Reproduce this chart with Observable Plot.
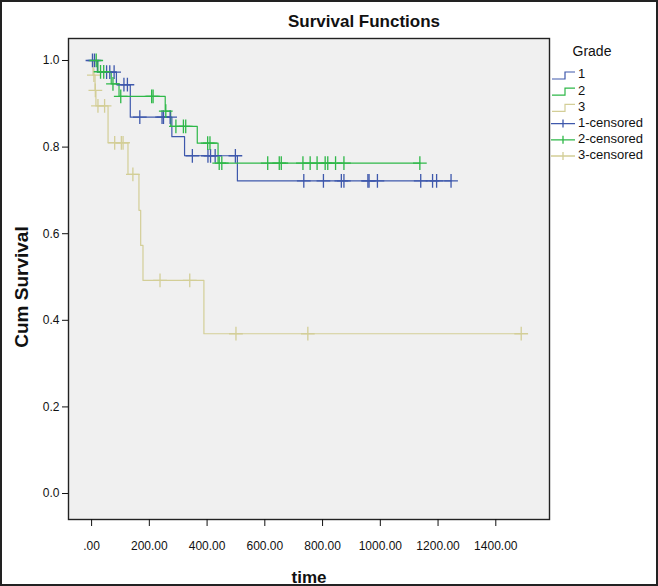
<!DOCTYPE html>
<html><head><meta charset="utf-8">
<script src="https://cdn.jsdelivr.net/npm/d3@7"></script>
<script src="https://cdn.jsdelivr.net/npm/@observablehq/plot@0.6"></script>
<style>
body{margin:0;background:#fff;}
#wrap{width:658px;height:586px;}
</style>
</head><body><div id="wrap"></div><script>
// ---- data ----
const seriesNames = ["1", "2", "3"];
const seriesColors = ["#3e58ac", "#2eb848", "#d3ce97"];
const legendLabels = ["1", "2", "3", "1-censored", "2-censored", "3-censored"];

// Grade 1: step curve (time, survival after step), censored marks
const g1StepTime = [0, 20, 86, 134, 278, 322, 505, 1245];
const g1StepSurv = [1.000, 0.973, 0.944, 0.869, 0.824, 0.780, 0.722, 0.722];
const g1CensTime = [3, 10, 52, 63, 78, 112, 124, 167, 244, 249, 272, 349, 403, 412, 428, 498, 735, 803, 865, 874, 957, 961, 990, 1140, 1181, 1195, 1245];
const g1CensSurv = [1.000, 1.000, 0.973, 0.973, 0.973, 0.944, 0.944, 0.869, 0.869, 0.869, 0.869, 0.780, 0.780, 0.780, 0.780, 0.780, 0.722, 0.722, 0.722, 0.722, 0.722, 0.722, 0.722, 0.722, 0.722, 0.722, 0.722];

// Grade 2
const g2StepTime = [0, 22, 68, 95, 255, 274, 366, 438, 1137];
const g2StepSurv = [1.000, 0.974, 0.946, 0.917, 0.883, 0.848, 0.809, 0.763, 0.763];
const g2CensTime = [16, 31, 42, 74, 101, 208, 213, 257, 292, 318, 326, 402, 410, 442, 451, 610, 650, 657, 732, 757, 781, 809, 818, 845, 874, 1137];
const g2CensSurv = [1.000, 0.974, 0.974, 0.946, 0.917, 0.917, 0.917, 0.883, 0.848, 0.848, 0.848, 0.809, 0.809, 0.763, 0.763, 0.763, 0.763, 0.763, 0.763, 0.763, 0.763, 0.763, 0.763, 0.763, 0.763, 0.763];

// Grade 3
const g3StepTime = [0, 5, 12, 15, 57, 126, 164, 170, 178, 389, 1488];
const g3StepSurv = [1.000, 0.966, 0.931, 0.895, 0.810, 0.737, 0.654, 0.573, 0.492, 0.369, 0.369];
const g3CensTime = [8, 13, 22, 45, 80, 103, 109, 143, 237, 340, 500, 749, 1488];
const g3CensSurv = [0.966, 0.931, 0.895, 0.895, 0.810, 0.810, 0.810, 0.737, 0.492, 0.492, 0.369, 0.369, 0.369];

const xTicks = [0, 200, 400, 600, 800, 1000, 1200, 1400];
const xTickLabels = [".00", "200.00", "400.00", "600.00", "800.00", "1000.00", "1200.00", "1400.00"];
const yTicks = [0, 0.2, 0.4, 0.6, 0.8, 1.0];
const yTickLabels = ["0.0", "0.2", "0.4", "0.6", "0.8", "1.0"];

// ---- build tables ----
const steps = [], cens = [];
[[g1StepTime, g1StepSurv, g1CensTime, g1CensSurv],
 [g2StepTime, g2StepSurv, g2CensTime, g2CensSurv],
 [g3StepTime, g3StepSurv, g3CensTime, g3CensSurv]].forEach(([st, ss, ct, cs], k) => {
  st.forEach((t, i) => steps.push({grade: seriesNames[k], t, s: ss[i]}));
  ct.forEach((t, i) => cens.push({grade: seriesNames[k], t, s: cs[i]}));
});
const drawOrder = ["3", "1", "2"];
const color = g => seriesColors[seriesNames.indexOf(g)];

const font = "Liberation Sans, Arial, sans-serif";
const plot = Plot.plot({
  width: 658, height: 586,
  marginLeft: 68, marginRight: 109, marginTop: 38, marginBottom: 67,
  style: {fontFamily: font, fontSize: "12px", background: "#fff", color: "#111"},
  x: {domain: [-80, 1586]},
  y: {domain: [-0.06, 1.0508]},
  marks: [
    Plot.frame({fill: "#f0f0f0", stroke: null}),
    ...drawOrder.map(g => Plot.line(steps.filter(d => d.grade === g), {
      x: "t", y: "s", curve: "step-after", stroke: color(g), strokeWidth: 1.2
    })),
    ...drawOrder.map(g => Plot.dot(cens.filter(d => d.grade === g), {
      x: "t", y: "s", symbol: "plus", r: 4.5, stroke: color(g), strokeWidth: 1.3
    })),
    Plot.frame({stroke: "#222", strokeWidth: 1.4}),
    Plot.axisY({ticks: yTicks, tickFormat: d => yTickLabels[yTicks.findIndex(v => Math.abs(v - d) < 1e-9)],
      tickSize: 6, tickPadding: 3, label: null, fontSize: 12}),
    Plot.axisX({ticks: xTicks, tickFormat: d => xTickLabels[xTicks.indexOf(d)],
      tickSize: 7, tickPadding: 15, label: null, fontSize: 12}),
    Plot.text(["Survival Functions"], {frameAnchor: "top", dx: 55, dy: -17, fontSize: 17, fontWeight: "bold", lineAnchor: "middle"}),
    Plot.text(["Cum Survival"], {frameAnchor: "left", dx: -47, dy: 8, rotate: -90, fontSize: 19, fontWeight: "bold", textAnchor: "middle"}),
    Plot.text(["time"], {frameAnchor: "bottom", dy: 58, fontSize: 17, fontWeight: "bold", lineAnchor: "middle"})
  ]
});

const svg = d3.select(plot);
// legend
const lg = svg.append("g").attr("font-family", font).attr("text-anchor", "start");
lg.append("text").attr("x", 592).attr("y", 52).attr("text-anchor", "middle")
  .attr("dominant-baseline", "middle").attr("font-size", 14).attr("fill", "#111").text("Grade");
legendLabels.forEach((lab, i) => {
  const y = 75 + i * 16.2;
  const c = seriesColors[i % 3];
  if (i < 3) {
    lg.append("path").attr("d", `M552,${y + 4}H565V${y - 3}H575`).attr("fill", "none").attr("stroke", c).attr("stroke-width", 1.2);
  } else {
    lg.append("path").attr("d", `M551,${y}H575M563,${y - 4}V${y + 4}`).attr("fill", "none").attr("stroke", c).attr("stroke-width", 1.3);
  }
  lg.append("text").attr("x", 578).attr("y", y).attr("dominant-baseline", "middle").attr("text-anchor", "start")
    .attr("font-size", 13).attr("fill", "#111").text(lab);
});
// outer border
svg.append("rect").attr("x", 1).attr("y", 1).attr("width", 656).attr("height", 584)
  .attr("fill", "none").attr("stroke", "#222").attr("stroke-width", 2);

document.getElementById("wrap").appendChild(plot);
</script></body></html>
